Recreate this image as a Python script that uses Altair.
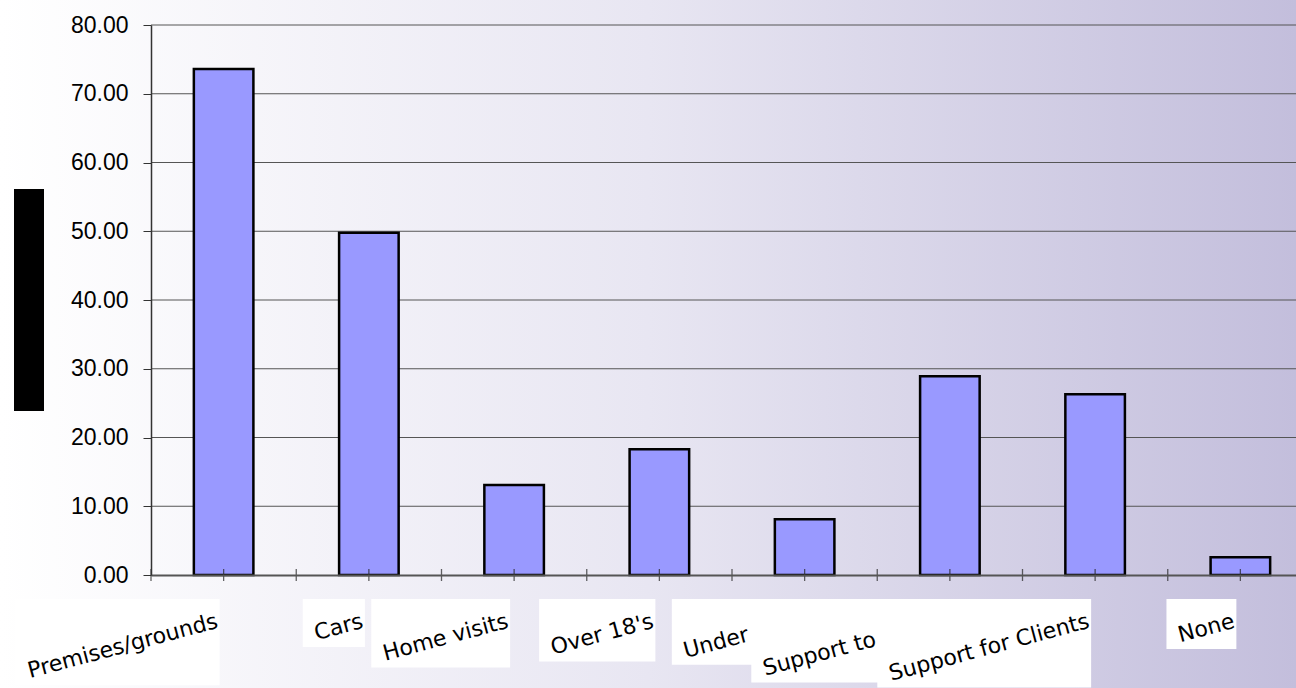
import math
import altair as alt
import pandas as pd

# ---------------- data ----------------
categories = ["Premises/grounds", "Cars", "Home visits", "Over 18's",
              "Under", "Support to", "Support for Clients", "None"]
values = [73.6, 49.8, 13.1, 18.3, 8.1, 28.9, 26.3, 2.6]
y_ticks = [0, 10, 20, 30, 40, 50, 60, 70, 80]

# ---------------- layout ----------------
TOTAL_W, TOTAL_H = 1296, 688
LEFT, TOP = 151, 25
VIEW_W = TOTAL_W - LEFT
PLOT_H = 550
BAND_RANGE = 1162            # x band scale runs past the right edge (cut off)
BAND = BAND_RANGE / len(categories)
ANG = 15
COS, SIN, TAN = (math.cos(math.radians(ANG)), math.sin(math.radians(ANG)),
                 math.tan(math.radians(ANG)))
LABEL_FS = 22
LABEL_FONT = "DejaVu Sans"
GLYPH_H = 25
BOX_TOP = 574                # white label boxes start just below the axis
LABEL_PAD = 36

# approximate DejaVu Sans advance widths (em) to size the white label boxes
_adv = {" ": .318, "'": .275, "/": .337, "1": .636, "8": .636, "C": .698, "H": .752,
        "N": .748, "O": .787, "P": .603, "S": .635, "U": .732, "a": .613, "d": .635,
        "e": .615, "f": .352, "g": .635, "i": .278, "l": .278, "m": .974, "n": .634,
        "o": .612, "p": .635, "r": .411, "s": .521, "t": .392, "u": .634, "v": .592}


def text_w(s):
    return sum(_adv.get(c, .6) for c in s) * LABEL_FS


# labels that sit left of their tick (their tails were hidden in the original)
label_shift = {"Under": 50, "Support to": 68}

df = pd.DataFrame({"label": categories, "value": values})
lab = pd.DataFrame({"label": categories})
lab["tw"] = [text_w(c) for c in categories]
lab["shift"] = [label_shift.get(c, 0) for c in categories]

xscale = alt.Scale(domain=categories, range=[0, BAND_RANGE], paddingInner=0, paddingOuter=0)
yscale = alt.Scale(domain=[0, 80], nice=False, zero=True)

xaxis = alt.Axis(title=None, ticks=False, tickSize=0, labels=False, domain=True,
                 domainColor="#555555", domainWidth=2, grid=False, zindex=2)
yaxis = alt.Axis(title=None, values=y_ticks, format=".2f", labelFont="Liberation Sans",
                 labelFontSize=23, labelColor="black", labelPadding=15, tickSize=8,
                 tickColor="#333333", tickWidth=1, domainColor="#333333", domainWidth=1.5,
                 grid=False, zindex=2)

# background gradient
bg = alt.Chart(pd.DataFrame({"a": [0]})).mark_rect(
    fill=alt.LinearGradient(
        gradient="linear",
        stops=[alt.GradientStop(color="#FFFFFF", offset=0),
               alt.GradientStop(color="#E8E6F2", offset=0.5),
               alt.GradientStop(color="#C3BEDC", offset=1)],
        x1=0, x2=1, y1=0, y2=0)
).encode(x=alt.value(-LEFT), x2=alt.value(VIEW_W), y=alt.value(-TOP), y2=alt.value(TOTAL_H - TOP))

# redacted y-axis title block
title_block = alt.Chart(pd.DataFrame({"a": [0]})).mark_rect(color="black").encode(
    x=alt.value(14 - LEFT), x2=alt.value(44 - LEFT),
    y=alt.value(189 - TOP), y2=alt.value(411 - TOP))

grid = alt.Chart(pd.DataFrame({"v": y_ticks[1:]})).mark_rule(color="#555555", strokeWidth=1).encode(
    y=alt.Y("v:Q", scale=yscale, axis=yaxis),
    x=alt.value(0), x2=alt.value(VIEW_W))

bars = alt.Chart(df).mark_bar(color="#9999FF", stroke="black", strokeWidth=2.5,
                              width=alt.RelativeBandSize(0.41)).encode(
    x=alt.X("label:N", sort=categories, scale=xscale, axis=xaxis),
    y=alt.Y("value:Q", scale=yscale, axis=yaxis))

ticks_c = alt.Chart(df).mark_tick(orient="vertical", size=12, thickness=1.3, color="#222222").encode(
    x=alt.X("label:N", sort=categories, scale=xscale, axis=xaxis),
    y=alt.YDatum(0, scale=yscale, axis=yaxis))
ticks_b = alt.Chart(df).mark_tick(orient="vertical", size=12, thickness=1.3, color="#222222").encode(
    x=alt.X("label:N", sort=categories, scale=xscale, axis=xaxis, bandPosition=0),
    y=alt.YDatum(0, scale=yscale, axis=yaxis))

inner = alt.layer(grid, bars, ticks_c, ticks_b)

px_x = alt.Scale(domain=[0, BAND_RANGE], range=[0, BAND_RANGE], nice=False, zero=False)
px_y = alt.Scale(domain=[0, PLOT_H], range=[0, PLOT_H], nice=False, zero=False)

lab_base = alt.Chart(lab).transform_window(row="row_number()").transform_calculate(
    cx=f"(datum.row - 0.5) * {BAND}",
    L=f"datum.tw + datum.shift / {COS}",
    xr="datum.cx - 4",
    xl=f"datum.xr - (datum.L * {COS} + {GLYPH_H} * {SIN} + 8)",
    yt=f"{BOX_TOP}",
    yb=f"datum.yt + datum.L * {SIN} + {GLYPH_H} * {COS} + 11",
    tx="datum.cx - 9 - datum.shift",
    ty=f"{PLOT_H + LABEL_PAD} + datum.shift * {TAN}",
)

boxes = lab_base.mark_rect(color="white").encode(
    x=alt.X("xl:Q", scale=px_x, axis=None), x2="xr:Q",
    y=alt.Y("yt:Q", scale=px_y, axis=None), y2="yb:Q")

labels = lab_base.mark_text(angle=360 - ANG, align="right", baseline="top", font=LABEL_FONT,
                            fontSize=LABEL_FS, color="black").encode(
    x=alt.X("tx:Q", scale=px_x, axis=None),
    y=alt.Y("ty:Q", scale=px_y, axis=None),
    text="label:N")

chart = alt.layer(bg, title_block, inner, boxes, labels).resolve_scale(
    x="independent", y="independent"
).properties(
    width=VIEW_W, height=PLOT_H,
    padding={"left": LEFT, "top": TOP, "right": 0, "bottom": TOTAL_H - TOP - PLOT_H},
    autosize=alt.AutoSizeParams(type="none"),
    background="white",
).configure_view(strokeWidth=0)

chart.save("out.html", embed_options={"renderer": "svg", "actions": False})
